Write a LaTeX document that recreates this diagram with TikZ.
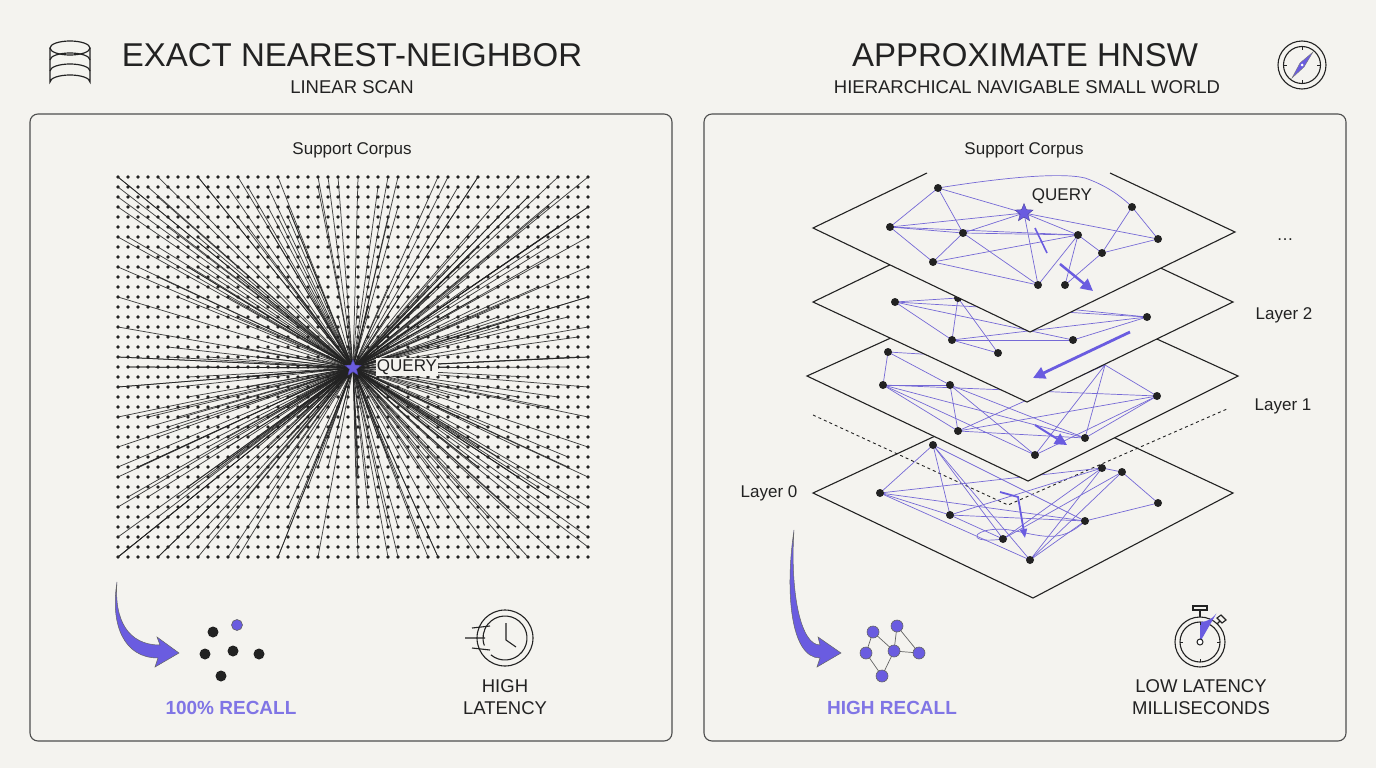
\documentclass[tikz,border=0pt]{standalone}
\usepackage{fontspec}
\setmainfont{Liberation Sans}
\usetikzlibrary{shapes.geometric,arrows.meta}
\definecolor{bg}{HTML}{F4F3EF}
\definecolor{pur}{HTML}{6A5CE0}
\definecolor{edge}{HTML}{7569D6}
\definecolor{ink}{HTML}{222222}
\begin{document}
\begin{tikzpicture}[x=1pt,y=-1pt,
  panel/.style={draw=ink!80,line width=1.1pt,rounded corners=8pt},
  title/.style={font=\fontsize{33}{36}\selectfont,text=ink},
  sub/.style={font=\fontsize{18.5}{20}\selectfont,text=ink},
  lab/.style={font=\fontsize{17}{19}\selectfont,text=ink},
  gn/.style={circle,fill=ink,inner sep=0pt,minimum size=8pt},
  ge/.style={draw=edge,line width=0.7pt},
  layer/.style={draw=ink,line width=1.1pt,fill=bg},
  parr/.style={draw=pur,line width=2.5pt,-{Triangle[length=12pt,width=12pt]}},
  inode/.style={circle,fill=pur,draw=ink!70,line width=0.6pt,inner sep=0pt,minimum size=12pt},
  dnode/.style={circle,fill=ink,inner sep=0pt,minimum size=11pt}]
\fill[bg] (0,0) rectangle (1376,768);
\useasboundingbox (0,0) rectangle (1376,768);

% ===== headers
\node[title] (t1) at (352,55) {EXACT NEAREST-NEIGHBOR};
\node[sub] (s1) at (352,87) {LINEAR SCAN};
\node[title] (t2) at (1025,55) {APPROXIMATE HNSW};
\node[sub] (s2) at (1027,87) {HIERARCHICAL NAVIGABLE SMALL WORLD};
% database icon
\begin{scope}[draw=ink,line width=1.2pt]
\draw (50,48) -- (50,82) arc[start angle=180,end angle=360,x radius=20,y radius=7] -- (90,48);
\draw (70,48) ellipse[x radius=20,y radius=7];
\draw (50,60) arc[start angle=180,end angle=360,x radius=20,y radius=7];
\draw (50,71) arc[start angle=180,end angle=360,x radius=20,y radius=7];
\end{scope}
% compass icon
\draw[ink,line width=1.1pt] (1302,65) circle[radius=24] (1302,65) circle[radius=18.5];
\foreach \a in {0,90,180,270}{\draw[ink,line width=0.8pt] (1302,65)++(\a:18.5) -- ++(\a+180:3.5);}
\fill[pur,draw=ink!60,line width=0.4pt] (1313,52) -- (1304,67) -- (1292,78) -- (1300,63) -- cycle;
\fill[white] (1302,65) circle[radius=1.5];

% ===== panels
\draw[panel] (30,114) rectangle (672,741);
\draw[panel] (704,114) rectangle (1346,741);
\node[lab] (sc1) at (352,150) {Support Corpus};

% ===== left: grid and fan
\foreach \i in {0,...,47}{\foreach \j in {0,...,38}{\fill[ink] (118+10*\i,177+10*\j) circle[radius=1.8];}}
\coordinate (q) at (353,368);
\pgfmathsetseed{7}
\foreach \k in {1,...,230}{
  \pgfmathrandominteger{\ra}{0}{47}
  \pgfmathrandominteger{\rb}{0}{38}
  \draw[ink,line width=0.75pt,opacity=0.85] (q) -- (118+10*\ra,177+10*\rb);
}
\foreach \ra in {0,4,...,47}{\draw[ink,line width=0.75pt,opacity=0.85] (q) -- (118+10*\ra,177) (q) -- (118+10*\ra,557);}
\foreach \rb in {0,3,...,38}{\draw[ink,line width=0.75pt,opacity=0.85] (q) -- (118,177+10*\rb) (q) -- (588,177+10*\rb);}
\node[star,star points=5,star point ratio=2.3,fill=pur,draw=pur!70!black,line width=0.4pt,minimum size=17pt,inner sep=0pt] (qs) at (q) {};
\node[lab,fill=bg,inner sep=1pt] (ql) at (407,367) {QUERY};

% ===== left bottom
\fill[pur,draw=ink!70,line width=0.5pt] (117,582) .. controls (114,620) and (128,645) .. (160,645) -- (157,637) -- (179,653) -- (155,667) -- (158,658) .. controls (124,658) and (110,625) .. (117,582) -- cycle;
\node[dnode] (d1) at (213,632) {};
\node[inode,minimum size=11pt] (d2) at (237,625) {};
\node[dnode] (d3) at (205,654) {};
\node[dnode] (d4) at (233,651) {};
\node[dnode] (d5) at (259,654) {};
\node[dnode] (d6) at (221,676) {};
\node[font=\bfseries\fontsize{19}{21}\selectfont,text=pur!85] (r1) at (231,708) {100\% RECALL};
% clock icon
\draw[ink,line width=1.1pt] (505,638) circle[radius=28];
\draw[ink,line width=1.1pt] (505,638) ++(130:22) arc[start angle=130,end angle=-200,radius=22];
\draw[ink,line width=1.1pt] (506,623) -- (506,640) -- (516,647);
\draw[ink,line width=1.1pt] (465,638) -- (485,638) (472,628) -- (490,626) (472,648) -- (490,650);
\node[lab,font=\fontsize{18.5}{22}\selectfont,align=center] (hl) at (505,697) {HIGH\\LATENCY};

% ===== right: layers
\node[lab] (sc2) at (1024,150) {Support Corpus};
% layer 0
\draw[layer] (1023,395) -- (1233,493) -- (1033,598) -- (813,493) -- cycle;
\draw[ink,dashed,line width=0.9pt] (813,415) -- (1008,505) -- (1227,409);
\foreach \n/\x/\y in {1/933/445,2/880/493,3/950/515,4/1003/539,5/1030/560,6/1085/521,7/1158/503,8/1102/468,9/1122/472}{\coordinate (j\n) at (\x,\y);}
\foreach \a/\b in {1/2,1/3,1/5,1/4,2/3,2/8,2/6,3/8,3/4,4/8,5/8,5/9,5/6,6/7,7/9,8/9,3/6,2/5,4/9,1/6}{\draw[ge] (j\a) -- (j\b);}
\draw[ge] (j4) .. controls (960,545) and (975,525) .. (1010,530) .. controls (1040,535) and (1060,545) .. (j6);
\foreach \n in {1,...,9}{\node[gn] (J\n) at (j\n) {};}
\draw[pur,line width=1.8pt,-{Triangle[length=9pt,width=7pt]}] (1000,492) -- (1018,497) -- (1025,538);
% layer 1
\draw[layer] (1023,278) -- (1238,376) -- (1028,481) -- (807,376) -- cycle;
\foreach \n/\x/\y in {1/888/352,2/883/385,3/950/385,4/958/431,5/1035/455,6/1085/438,7/1157/396,8/1105/365}{\coordinate (k\n) at (\x,\y);}
\foreach \a/\b in {1/2,1/3,2/3,2/4,2/5,3/4,3/5,3/6,4/6,4/7,5/7,6/7,5/8,6/8,8/7,2/6,1/8,2/7,4/8}{\draw[ge] (k\a) -- (k\b);}
\foreach \n in {1,...,7}{\node[gn] (K\n) at (k\n) {};}
\draw[parr,line width=2pt] (1035,425) -- (1067,445);
% layer 2
\draw[layer] (1020,202) -- (1233,302) -- (1027,402) -- (813,302) -- cycle;
\foreach \n/\x/\y in {1/895/302,2/958/298,3/952/340,4/998/353,5/1073/340,6/1147/317}{\coordinate (m\n) at (\x,\y);}
\foreach \a/\b in {1/2,1/3,1/6,2/3,2/6,3/5,3/4,5/6,1/5,2/4,3/6}{\draw[ge] (m\a) -- (m\b);}
\foreach \n in {1,...,6}{\node[gn] (M\n) at (m\n) {};}
\draw[parr,line width=2.8pt] (1130,332) -- (1033,378);
% layer 3
\draw[layer] (927,173) -- (813,228) -- (1030,332) -- (1235,232) -- (1110,173);
\foreach \n/\x/\y in {1/938/188,2/890/227,3/963/233,4/933/262,5/1038/285,6/1065/285,7/1078/235,8/1132/207,9/1158/239,10/1102/253,0/1024/213}{\coordinate (n\n) at (\x,\y);}
\foreach \a/\b in {1/2,1/3,1/0,2/3,2/4,2/0,3/4,3/0,3/5,3/7,4/7,0/7,0/9,7/5,7/6,7/10,8/10,8/9,10/9,6/10,4/5,2/7,0/5}{\draw[ge] (n\a) -- (n\b);}
\draw[ge] (n1) .. controls (1000,178) and (1060,172) .. (1085,178) .. controls (1105,185) and (1120,195) .. (n8);
\foreach \n in {1,...,10}{\node[gn] (N\n) at (n\n) {};}
\node[star,star points=5,star point ratio=2.3,fill=pur,draw=pur!70!black,line width=0.4pt,minimum size=19pt,inner sep=0pt] (qs2) at (n0) {};
\node[lab] (ql2) at (1062,196) {QUERY};
\draw[pur,line width=1.6pt] (1035,228) -- (1047,253);
\draw[parr,line width=2.5pt] (1060,264) -- (1093,291);
% layer labels
\node[lab] (dots) at (1285,240) {\dots};
\node[lab] (l2) at (1284,315) {Layer 2};
\node[lab] (l1) at (1283,406) {Layer 1};
\node[lab] (l0) at (769,493) {Layer 0};

% ===== right bottom
\fill[pur,draw=ink!70,line width=0.5pt] (794,530) .. controls (790,590) and (800,645) .. (820,645) -- (818,637) -- (841,653) -- (817,667) -- (820,658) .. controls (790,658) and (785,590) .. (794,530) -- cycle;
\foreach \a/\b/\c/\d in {873/632/894/651,866/653/882/676,894/651/882/676,897/626/894/651,897/626/919/653,894/651/919/653,873/632/866/653}{\draw[ink!70,line width=0.7pt] (\a,\b) -- (\c,\d);}
\node[inode] (h1) at (873,632) {};
\node[inode] (h2) at (897,626) {};
\node[inode] (h3) at (866,653) {};
\node[inode] (h4) at (894,651) {};
\node[inode] (h5) at (919,653) {};
\node[inode] (h6) at (882,676) {};
\node[font=\bfseries\fontsize{19}{21}\selectfont,text=pur!85] (r2) at (892,708) {HIGH RECALL};
% stopwatch
\draw[ink,line width=1.1pt] (1200,642) circle[radius=25] (1200,642) circle[radius=20];
\fill[pur] (1200,642) -- (1200,622) arc[start angle=90,end angle=35,radius=20] -- cycle;
\draw[ink,line width=1.1pt] (1200,617) -- (1200,610) (1193,606) rectangle (1207,610);
\draw[ink,line width=1.1pt] (1217,624) -- (1220,621);
\draw[ink,line width=1.1pt,fill=bg] (1217,618) -- (1221,615) -- (1226,620) -- (1222,623) -- cycle;
\foreach \a in {0,90,180,270}{\draw[ink,line width=0.8pt] (1200,642)++(\a:20) -- ++(\a+180:3);}
\draw[ink,line width=1pt,fill=white] (1200,642) circle[radius=3];
\node[lab,font=\fontsize{18.5}{22}\selectfont,align=center] (ll) at (1201,697) {LOW LATENCY\\MILLISECONDS};
\end{tikzpicture}
\end{document}
